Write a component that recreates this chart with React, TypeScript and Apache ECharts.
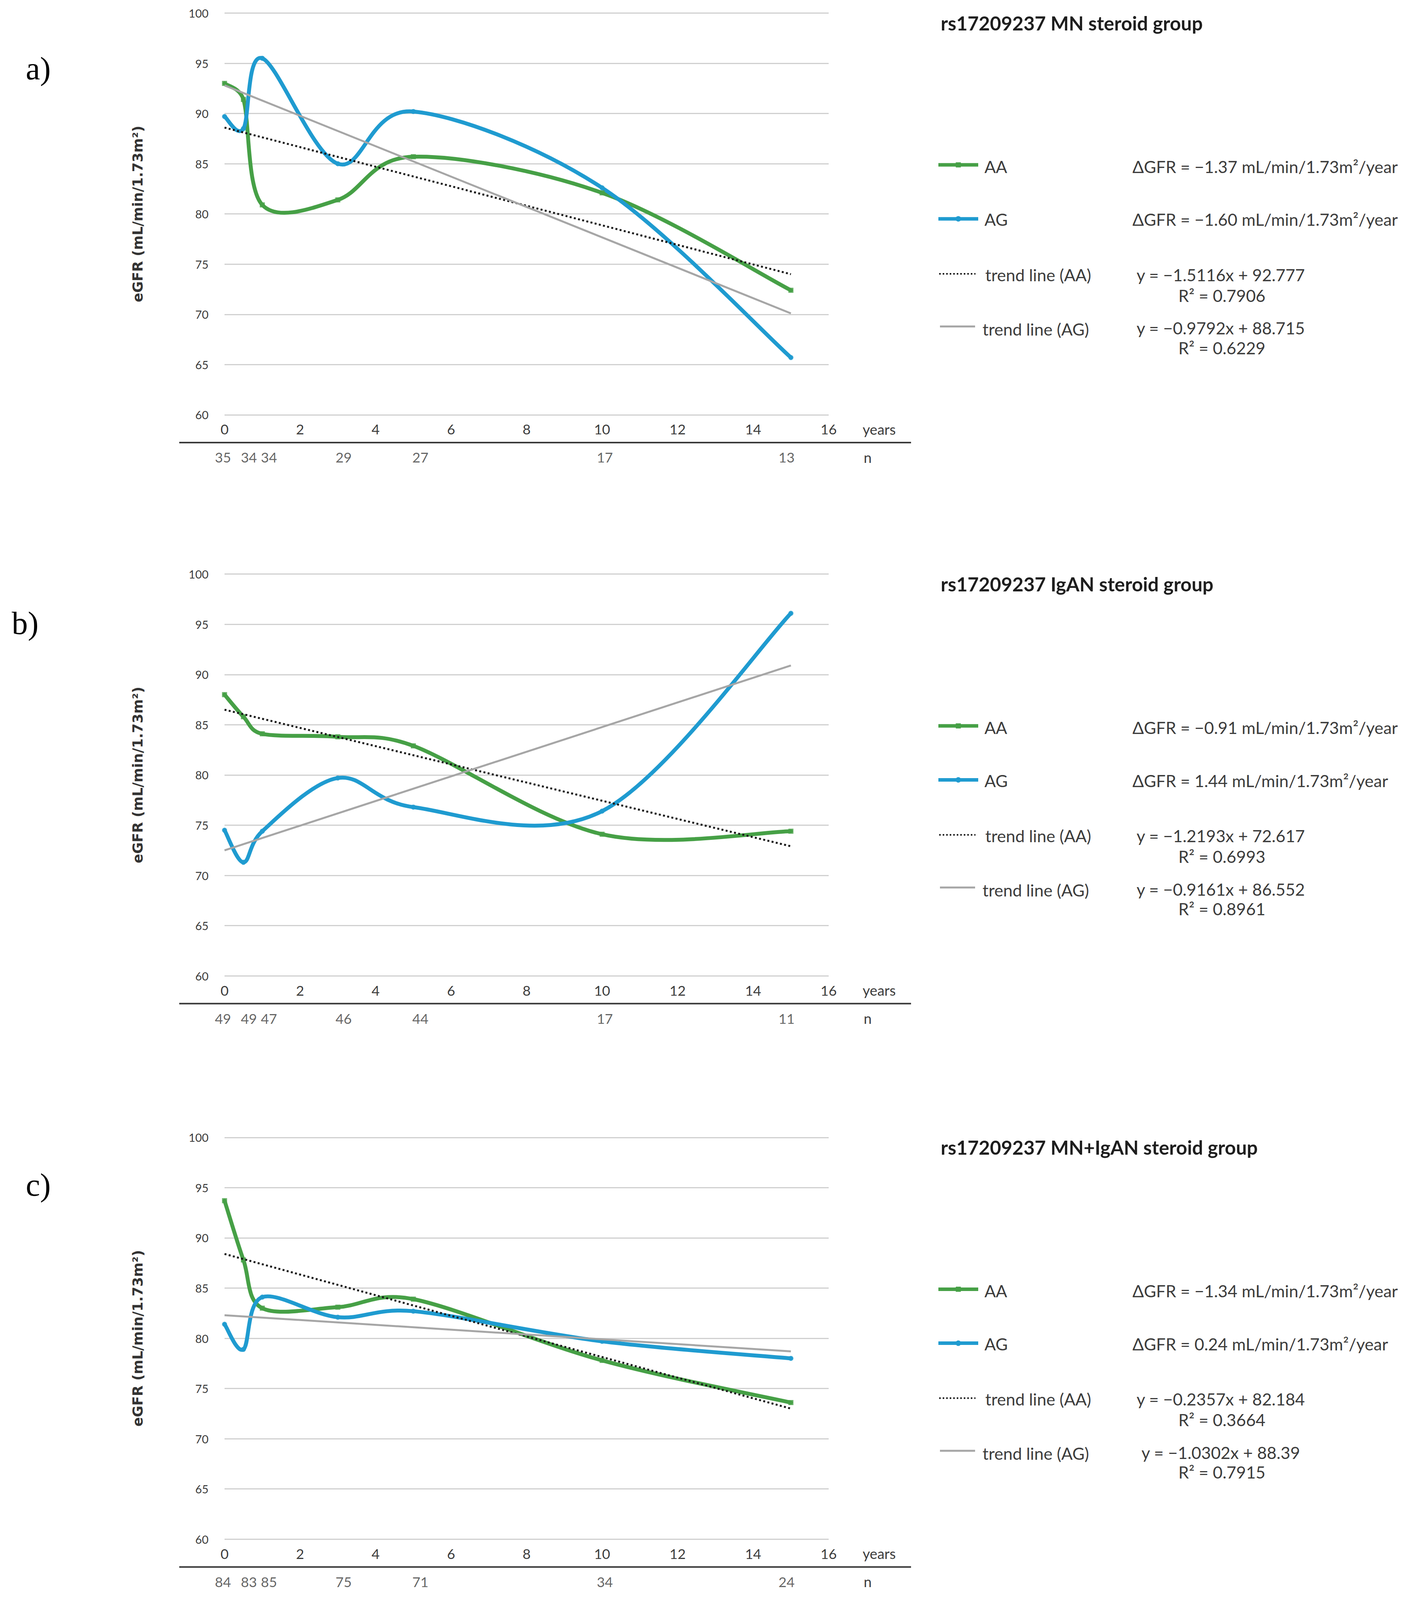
import React, { useEffect, useRef, useState } from "react";
import * as echarts from "echarts";

// ---------------- data ----------------
const years = [0, 0.5, 1, 3, 5, 10, 15];
const trendYears = [0, 15];

const aAA = [93.0, 91.4, 80.9, 81.4, 85.7, 82.1, 72.4];
const aAG = [89.7, 88.5, 95.5, 85.0, 90.2, 82.6, 65.7];
const aTrendDotted = [88.6, 74.0];
const aTrendGray = [92.8, 70.1];
const aN = [35, 34, 34, 29, 27, 17, 13];

const bAA = [88.0, 85.8, 84.1, 83.8, 82.9, 74.1, 74.4];
const bAG = [74.5, 71.3, 74.4, 79.7, 76.8, 76.4, 96.1];
const bTrendDotted = [86.5, 72.9];
const bTrendGray = [72.5, 90.9];
const bN = [49, 49, 47, 46, 44, 17, 11];

const cAA = [93.7, 87.8, 83.0, 83.1, 83.9, 77.8, 73.6];
const cAG = [81.4, 78.9, 84.1, 82.1, 82.7, 79.7, 78.0];
const cTrendDotted = [88.4, 73.0];
const cTrendGray = [82.3, 78.7];
const cN = [84, 83, 85, 75, 71, 34, 24];

const panelLetters = ["a)", "b)", "c)"];
const panelTitles = [
  "rs17209237 MN steroid group",
  "rs17209237 IgAN steroid group",
  "rs17209237 MN+IgAN steroid group",
];
const deltaAA = [
  "ΔGFR = −1.37 mL/min/1.73m²/year",
  "ΔGFR = −0.91 mL/min/1.73m²/year",
  "ΔGFR = −1.34 mL/min/1.73m²/year",
];
const deltaAG = [
  "ΔGFR = −1.60 mL/min/1.73m²/year",
  "ΔGFR = 1.44 mL/min/1.73m²/year",
  "ΔGFR = 0.24 mL/min/1.73m²/year",
];
const eqAA = ["y = −1.5116x + 92.777", "y = −1.2193x + 72.617", "y = −0.2357x + 82.184"];
const r2AA = ["R² = 0.7906", "R² = 0.6993", "R² = 0.3664"];
const eqAG = ["y = −0.9792x + 88.715", "y = −0.9161x + 86.552", "y = −1.0302x + 88.39"];
const r2AG = ["R² = 0.6229", "R² = 0.8961", "R² = 0.7915"];
const seriesNames = ["AA", "AG", "trend line (AA)", "trend line (AG)"];
const yAxisTitle = "eGFR (mL/min/1.73m²)";
const xUnit = "years";
const nUnit = "n";

// ---------------- style / layout (design space 3644 x 4891) ----------------
const W = 3644;
const H = 4891;
const GREEN = "#46A046";
const BLUE = "#1F9BD0";
const GRAY = "#A6A6A6";
const DOT = "#1a1a1a";
const TXT = "#3c3c3c";
const SANS = "Lato, 'Open Sans', sans-serif";

const offsets = [0, 1715, 3437];
const letterPos = [
  [66, 209],
  [30, 1905],
  [66, 3622],
];
const nLabelShift = [-4, 14, 17, 15, 18, 7, -11];
const GRID_LEFT = 575;
const GRID_W = 1547;
const GRID_TOP = 40;
const GRID_H = 1228;

const panelsData = [
  { AA: aAA, AG: aAG, dotted: aTrendDotted, gray: aTrendGray, n: aN },
  { AA: bAA, AG: bAG, dotted: bTrendDotted, gray: bTrendGray, n: bN },
  { AA: cAA, AG: cAG, dotted: cTrendDotted, gray: cTrendGray, n: cN },
];

function curveRenderItem(color: string, width: number) {
  return (params: any, api: any) => {
    const i = params.dataIndexInside;
    const n = params.dataInsideLength;
    if (i >= n - 1) return null;
    const pt = (k: number) => api.coord([api.value(0, k), api.value(1, k)]);
    const p1 = pt(i);
    const p2 = pt(i + 1);
    const p0 = i > 0 ? pt(i - 1) : p1;
    const p3 = i + 2 < n ? pt(i + 2) : p2;
    const seg = Math.hypot(p2[0] - p1[0], p2[1] - p1[1]);
    const arm = (a: number[], b: number[]) => {
      let dx = (b[0] - a[0]) / 6;
      let dy = (b[1] - a[1]) / 6;
      const L = Math.hypot(dx, dy);
      const lim = seg / 2;
      if (L > lim && L > 0) {
        dx *= lim / L;
        dy *= lim / L;
      }
      return [dx, dy];
    };
    const a1 = arm(p0, p2);
    const a2 = arm(p1, p3);
    return {
      type: "bezierCurve",
      shape: {
        x1: p1[0],
        y1: p1[1],
        x2: p2[0],
        y2: p2[1],
        cpx1: p1[0] + a1[0],
        cpy1: p1[1] + a1[1],
        cpx2: p2[0] - a2[0],
        cpy2: p2[1] - a2[1],
      },
      style: { fill: "none", stroke: color, lineWidth: width, lineCap: "round" },
    };
  };
}

function buildOption(sx: number, sy: number) {
  const fs = Math.sqrt(sx * sy);
  const X = (v: number) => v * sx;
  const Y = (v: number) => v * sy;
  const F = (v: number) => Math.round(v * fs * 10) / 10;

  const txt = (text: string, x: number, y: number, size: number, opts: any = {}) => {
    const align = opts.align || "left";
    return {
      type: "text",
      x: X(x),
      y: Y(y),
      silent: true,
      style: {
        text,
        fill: opts.color || TXT,
        fontSize: F(size),
        fontFamily: opts.family || SANS,
        fontWeight: opts.weight || "normal",
        align,
        textAlign: align,
        verticalAlign: "middle",
        textVerticalAlign: "middle",
      },
    };
  };
  const hline = (x1: number, x2: number, y: number, style: any) => ({
    type: "line",
    silent: true,
    shape: { x1: X(x1), y1: Y(y), x2: X(x2), y2: Y(y) },
    style,
  });

  const grid: any[] = [];
  const xAxis: any[] = [];
  const yAxis: any[] = [];
  const series: any[] = [];
  const graphic: any[] = [];

  panelsData.forEach((p, k) => {
    const off = offsets[k];
    const gi = k * 2;
    const ni = k * 2 + 1;
    grid.push({ left: X(GRID_LEFT), top: Y(GRID_TOP + off), width: X(GRID_W), height: Y(GRID_H) });
    grid.push({ left: X(GRID_LEFT), top: Y(off + 1378), width: X(GRID_W), height: Y(40) });

    const xFont = F(39);
    xAxis.push({
      type: "value",
      gridIndex: gi,
      min: 0,
      max: 16,
      interval: 2,
      axisLine: { show: false },
      axisTick: { show: false },
      splitLine: { show: false },
      axisLabel: {
        color: TXT,
        fontSize: xFont,
        fontFamily: SANS,
        margin: Math.max(2, Y(44) - xFont / 2),
      },
    });
    xAxis.push({ type: "value", gridIndex: ni, min: 0, max: 16, show: false });

    const nameFont = F(39);
    yAxis.push({
      type: "value",
      gridIndex: gi,
      min: 60,
      max: 100,
      interval: 5,
      axisLine: { show: false },
      axisTick: { show: false },
      splitLine: { lineStyle: { color: "#D0D0D0", width: 3 } },
      axisLabel: { color: TXT, fontSize: F(32), fontFamily: SANS, margin: X(41) },
      name: yAxisTitle,
      nameLocation: "middle",
      nameRotate: 90,
      nameGap: X(222) - nameFont / 2,
      nameTextStyle: {
        fontFamily: "'DejaVu Sans', Verdana, sans-serif",
        fontWeight: "bold",
        fontSize: nameFont,
        color: "#333333",
      },
    });
    yAxis.push({ type: "value", gridIndex: ni, min: 0, max: 1, show: false });

    const pts = (vals: number[]) => years.map((x, i) => [x, vals[i]]);

    series.push({
      name: seriesNames[0],
      type: "custom",
      xAxisIndex: gi,
      yAxisIndex: gi,
      renderItem: curveRenderItem(GREEN, 10),
      data: pts(p.AA),
      encode: { x: 0, y: 1 },
      z: 2,
    });
    series.push({
      name: seriesNames[1],
      type: "custom",
      xAxisIndex: gi,
      yAxisIndex: gi,
      renderItem: curveRenderItem(BLUE, 10),
      data: pts(p.AG),
      encode: { x: 0, y: 1 },
      z: 3,
    });
    series.push({
      name: seriesNames[0],
      type: "scatter",
      xAxisIndex: gi,
      yAxisIndex: gi,
      symbol: "rect",
      symbolSize: 13,
      itemStyle: { color: GREEN },
      data: pts(p.AA),
      z: 4,
    });
    series.push({
      name: seriesNames[1],
      type: "scatter",
      xAxisIndex: gi,
      yAxisIndex: gi,
      symbol: "circle",
      symbolSize: 13,
      itemStyle: { color: BLUE },
      data: pts(p.AG),
      z: 5,
    });
    series.push({
      name: seriesNames[2],
      type: "line",
      xAxisIndex: gi,
      yAxisIndex: gi,
      showSymbol: false,
      symbol: "none",
      lineStyle: { color: DOT, width: 5, type: [5, 6] },
      data: trendYears.map((x, i) => [x, p.dotted[i]]),
      z: 6,
    });
    series.push({
      name: seriesNames[3],
      type: "line",
      xAxisIndex: gi,
      yAxisIndex: gi,
      showSymbol: false,
      symbol: "none",
      lineStyle: { color: GRAY, width: 5 },
      data: trendYears.map((x, i) => [x, p.gray[i]]),
      z: 6,
    });
    series.push({
      name: "n",
      type: "scatter",
      xAxisIndex: ni,
      yAxisIndex: ni,
      symbolSize: 0.1,
      itemStyle: { color: "rgba(0,0,0,0)" },
      data: years.map((x, i) => ({
        value: [x, 0.5, p.n[i]],
        label: { offset: [X(nLabelShift[i]), 0] },
      })),
      label: {
        show: true,
        position: "inside",
        formatter: (q: any) => String(q.value[2]),
        color: TXT,
        fontSize: F(39),
        fontFamily: SANS,
      },
    });

    graphic.push(
      txt(panelLetters[k], letterPos[k][0], letterPos[k][1], 90, {
        family: "'Liberation Serif', 'Times New Roman', serif",
        color: "#000000",
      })
    );
    graphic.push(hline(459, 2333, off + 1353, { stroke: "#3a3a3a", lineWidth: 4 }));
    graphic.push(txt(xUnit, 2209, off + 1312, 40));
    graphic.push(txt(nUnit, 2222, off + 1398, 40, { align: "center" }));

    graphic.push(txt(panelTitles[k], 2409, off + 70, 54, { weight: "bold", color: "#1e1e1e" }));

    // legend AA
    graphic.push(hline(2403, 2505, off + 504, { stroke: GREEN, lineWidth: 9 }));
    graphic.push({
      type: "rect",
      silent: true,
      shape: { x: X(2454) - 6.5, y: Y(off + 504) - 6.5, width: 13, height: 13 },
      style: { fill: GREEN },
    });
    graphic.push(txt(seriesNames[0], 2521, off + 509, 47));
    graphic.push(txt(deltaAA[k], 2900, off + 509, 47));

    // legend AG
    graphic.push(hline(2403, 2505, off + 669, { stroke: BLUE, lineWidth: 9 }));
    graphic.push({
      type: "circle",
      silent: true,
      shape: { cx: X(2454), cy: Y(off + 669), r: 7 },
      style: { fill: BLUE },
    });
    graphic.push(txt(seriesNames[1], 2521, off + 671, 47));
    graphic.push(txt(deltaAG[k], 2900, off + 671, 47));

    // legend trend AA
    graphic.push(hline(2405, 2498, off + 837, { stroke: DOT, lineWidth: 4, lineDash: [4, 5] }));
    graphic.push(txt(seriesNames[2], 2523, off + 840, 47));
    graphic.push(txt(eqAA[k], 3126, off + 840, 47, { align: "center" }));
    graphic.push(txt(r2AA[k], 3129, off + 903, 47, { align: "center" }));

    // legend trend AG
    graphic.push(hline(2407, 2497, off + 998, { stroke: GRAY, lineWidth: 5 }));
    graphic.push(txt(seriesNames[3], 2516, off + 1006, 47));
    graphic.push(txt(eqAG[k], 3126, off + 1003, 47, { align: "center" }));
    graphic.push(txt(r2AG[k], 3129, off + 1063, 47, { align: "center" }));
  });

  return {
    animation: false,
    backgroundColor: "#ffffff",
    textStyle: { fontFamily: SANS },
    grid,
    xAxis,
    yAxis,
    series,
    graphic,
  };
}

function viewportSize() {
  const vw = Math.min(window.innerWidth || W, W);
  const vh = Math.min(window.innerHeight || H, H);
  return { w: vw, h: vh };
}

export default function App() {
  const ref = useRef<HTMLDivElement>(null);
  const [size] = useState(() => viewportSize());
  useEffect(() => {
    document.body.style.margin = "0";
    document.body.style.overflow = "hidden";
    if (!ref.current) return;
    const chart = echarts.init(ref.current, undefined, { renderer: "svg" });
    chart.setOption(buildOption(size.w / W, size.h / H) as any);
    return () => {
      chart.dispose();
    };
  }, [size]);
  return <div ref={ref} style={{ width: size.w, height: size.h, background: "#fff" }} />;
}
